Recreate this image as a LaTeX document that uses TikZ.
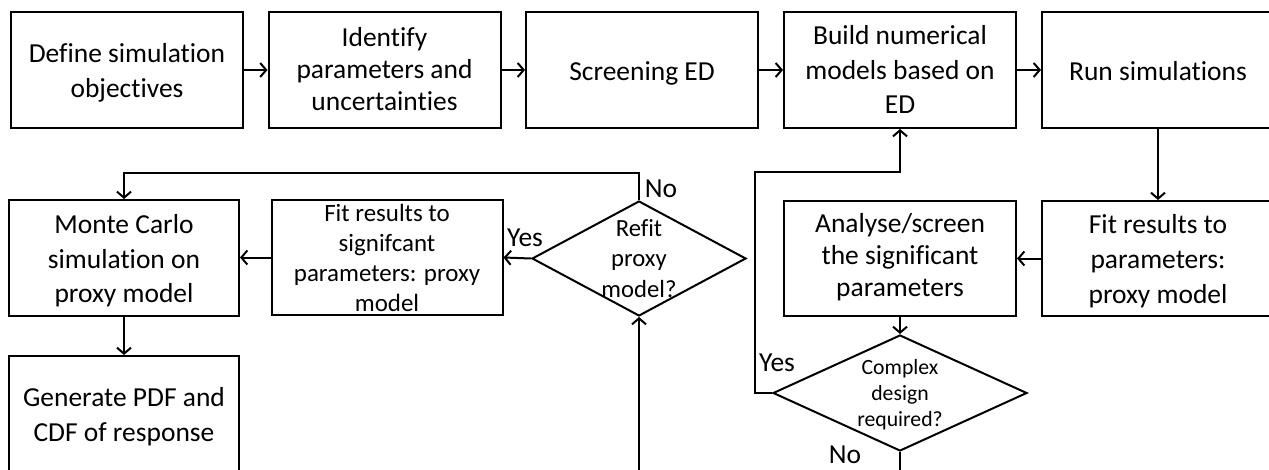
\documentclass[tikz,border=0pt]{standalone}
\usepackage{fontspec}
\setmainfont{Carlito}[Ligatures=NoCommon]
\usetikzlibrary{arrows.meta,shapes.geometric}
\newcommand{\lowtext}[2][2.4pt]{\raisebox{-#1}[\height][\depth]{\begin{tabular}{@{}c@{}}#2\end{tabular}}}
\begin{document}
\begin{tikzpicture}[x=0.75pt,y=-0.75pt,
  base/.style={draw=black,line width=1.5pt,inner sep=0pt,align=center,text=black},
  bigfont/.style={font=\fontsize{20.6}{26}\selectfont},
  box/.style={base,rectangle,minimum width=174pt,minimum height=87pt,bigfont},
  dec/.style={base,diamond,inner sep=-40pt},
  conn/.style={line width=1.5pt,-{Straight Barb[length=4.5pt,width=10.5pt,line width=1.5pt]}},
  plain/.style={line width=1.5pt},
  lbl/.style={bigfont,inner sep=0pt}]
\useasboundingbox (0,0) rectangle (1269,470);
\fill[white] (0,0) rectangle (1269,470);
% top row
\node[box] (b1) at (127,70) {\lowtext{Define simulation\\objectives}};
\node[box,font=\fontsize{20.6}{24}\selectfont] (b2) at (384.5,70) {\lowtext[1.4pt]{Identify\\parameters and\\uncertainties}};
\node[box] (b3) at (642,70) {\lowtext{Screening ED}};
\node[box] (b4) at (900,70) {\lowtext[1.6pt]{Build numerical\\models based on\\ED}};
\node[box] (b5) at (1158,70) {\lowtext{Run simulations}};
% middle row
\node[box,minimum width=172.5pt] (mc) at (124,258) {\lowtext{Monte Carlo\\simulation on\\proxy model}};
\node[box,minimum width=173.25pt,minimum height=86.25pt,font=\fontsize{18.7}{22.5}\selectfont] (fl) at (387,257.5) {Fit results to\\signifcant\\parameters: proxy\\model};
\node[dec,minimum width=160.5pt,minimum height=86.25pt,font=\fontsize{18.5}{23}\selectfont] (rf) at (639,258.5) {Refit\\proxy\\model?};
\node[box,minimum height=86.25pt,font=\fontsize{20.6}{24}\selectfont] (an) at (900,258.5) {\lowtext[0pt]{Analyse/screen\\the significant\\parameters}};
\node[box,minimum height=86.25pt] (fr) at (1158,258.5) {\lowtext{Fit results to\\parameters:\\proxy model}};
% bottom row
\node[dec,minimum width=190.5pt,minimum height=87pt,font=\fontsize{16.3}{19.5}\selectfont] (cx) at (900,393) {\lowtext[2pt]{Complex\\design\\required?}};
\node[box,minimum width=172.5pt] (gen) at (124,414) {\lowtext{Generate PDF and\\CDF of response}};
% helper coordinates
\coordinate (loopc) at (755,172);
\coordinate (rftop) at (639,173);
\coordinate (rfin) at (639,480);
\coordinate (cxout) at (900,480);
% connectors
\draw[conn] (b1) -- (b2);
\draw[conn] (b2) -- (b3);
\draw[conn] (b3) -- (b4);
\draw[conn] (b4) -- (b5);
\draw[conn] (b5) -- (fr);
\draw[conn] (fr) -- (an);
\draw[conn] (an) -- (cx);
\draw[conn] (cx.west) -| (loopc) -| (b4.south);
\draw[plain] (cx.south) -- (cxout);
\draw[conn] (rfin) -- (rf.south);
\draw[conn] (rf.west) -- (fl.east);
\draw[conn] (rf.north) -- (rftop) -| (mc.north);
\draw[conn] (fl.west) -- (fl.west -| mc.east);
\draw[conn] (mc) -- (gen);
% labels
\node[lbl] (yes1) at (525,238) {Yes};
\node[lbl] (no1) at (661,189) {No};
\node[lbl] (yes2) at (777,363) {Yes};
\node[lbl] (no2) at (845,455) {No};
\end{tikzpicture}
\end{document}
